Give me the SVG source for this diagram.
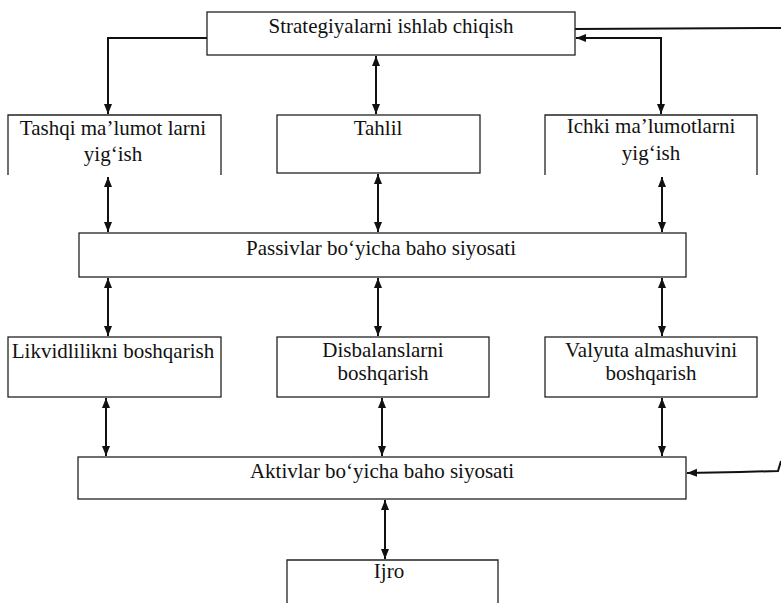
<svg xmlns="http://www.w3.org/2000/svg" width="781" height="603" viewBox="0 0 781 603">
<style>
.box{fill:#fff;stroke:#222;stroke-width:1.3}
.open{fill:none;stroke:#222;stroke-width:1.3}
.lbl{font-family:"Liberation Serif","Times New Roman",serif;font-size:21px;fill:#111;text-anchor:middle}
.c{fill:none;stroke:#111;stroke-width:2}
</style>
<defs>
<marker id="ah" viewBox="0 0 10 10" refX="10" refY="5" markerWidth="5" markerHeight="5" orient="auto-start-reverse" markerUnits="strokeWidth">
<path d="M0,1 L10,5 L0,9 z" fill="#111"/>
</marker>
</defs>
<rect width="781" height="603" fill="#fff"/>
<g id="connectors">
<polyline class="c" points="207,38 108,38 108,114" marker-end="url(#ah)"/>
<line class="c" x1="376" y1="56" x2="376" y2="114" marker-start="url(#ah)" marker-end="url(#ah)"/>
<polyline class="c" points="576,38 661,38 661,114" marker-start="url(#ah)" marker-end="url(#ah)"/>
<line class="c" x1="575" y1="29" x2="781" y2="28"/>
<polyline class="c" points="781,461 778,471 740,472 687,473" marker-end="url(#ah)"/>
<line class="c" x1="108" y1="177" x2="108" y2="232" marker-start="url(#ah)" marker-end="url(#ah)"/>
<line class="c" x1="378" y1="174" x2="378" y2="232" marker-start="url(#ah)" marker-end="url(#ah)"/>
<line class="c" x1="662" y1="177" x2="662" y2="232" marker-start="url(#ah)" marker-end="url(#ah)"/>
<line class="c" x1="108" y1="278" x2="108" y2="336" marker-start="url(#ah)" marker-end="url(#ah)"/>
<line class="c" x1="378" y1="278" x2="378" y2="336" marker-start="url(#ah)" marker-end="url(#ah)"/>
<line class="c" x1="662" y1="278" x2="662" y2="336" marker-start="url(#ah)" marker-end="url(#ah)"/>
<line class="c" x1="106" y1="398" x2="106" y2="456" marker-start="url(#ah)" marker-end="url(#ah)"/>
<line class="c" x1="382" y1="398" x2="382" y2="456" marker-start="url(#ah)" marker-end="url(#ah)"/>
<line class="c" x1="662" y1="398" x2="662" y2="456" marker-start="url(#ah)" marker-end="url(#ah)"/>
<line class="c" x1="385" y1="500" x2="385" y2="559" marker-start="url(#ah)" marker-end="url(#ah)"/>
</g>
<g id="strategy">
<rect class="box" x="207" y="12" width="368" height="43"/>
<text class="lbl" x="391" y="33">Strategiyalarni ishlab chiqish</text>
</g>
<g id="tashqi">
<path class="open" d="M8,175 V115 H221 V175"/>
<text class="lbl" x="113" y="135">Tashqi ma’lumot larni</text>
<text class="lbl" x="113" y="161">yig‘ish</text>
</g>
<g id="tahlil">
<rect class="box" x="277" y="115" width="203" height="58"/>
<text class="lbl" x="378" y="135">Tahlil</text>
</g>
<g id="ichki">
<path class="open" d="M545,175 V115 H757 V175"/>
<text class="lbl" x="651" y="133">Ichki ma’lumotlarni</text>
<text class="lbl" x="651" y="160">yig‘ish</text>
</g>
<g id="passivlar">
<rect class="box" x="79" y="233" width="607" height="44"/>
<text class="lbl" x="381" y="255">Passivlar bo‘yicha baho siyosati</text>
</g>
<g id="likvid">
<rect class="box" x="8" y="337" width="213" height="60"/>
<text class="lbl" x="113" y="358">Likvidlilikni boshqarish</text>
</g>
<g id="disbalans">
<rect class="box" x="277" y="337" width="212" height="60"/>
<text class="lbl" x="383" y="357">Disbalanslarni</text>
<text class="lbl" x="383" y="380">boshqarish</text>
</g>
<g id="valyuta">
<rect class="box" x="545" y="337" width="212" height="60"/>
<text class="lbl" x="651" y="357">Valyuta almashuvini</text>
<text class="lbl" x="651" y="380">boshqarish</text>
</g>
<g id="aktivlar">
<rect class="box" x="78" y="457" width="608" height="42"/>
<text class="lbl" x="382" y="478">Aktivlar bo‘yicha baho siyosati</text>
</g>
<g id="ijro">
<path class="open" d="M287,603 V560 H498 V603"/>
<text class="lbl" x="389" y="578">Ijro</text>
</g>
</svg>
